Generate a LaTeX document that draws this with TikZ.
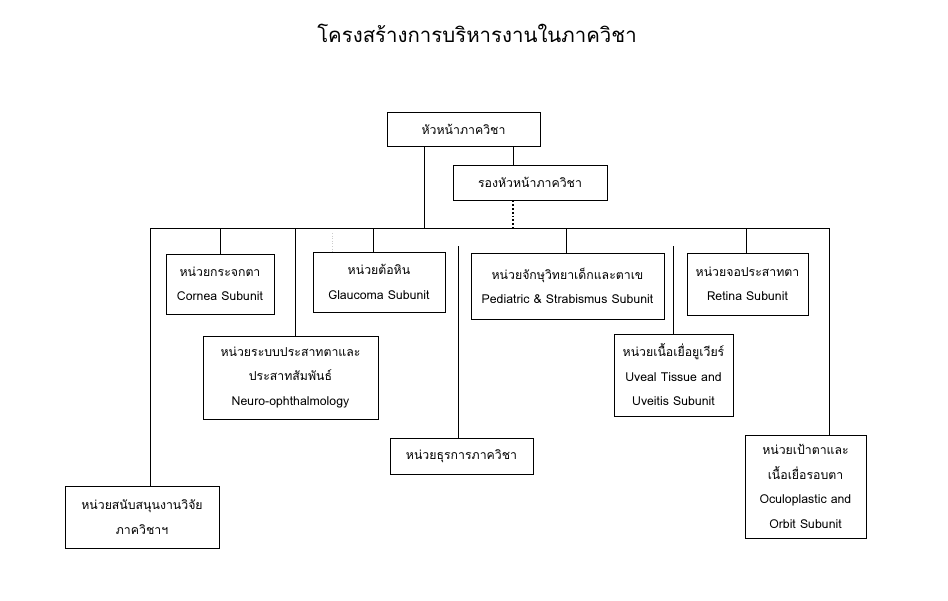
\documentclass[tikz,border=0pt]{standalone}
\usepackage{fontspec}
\setmainfont[Script=Thai]{Loma}
\begin{document}
\begin{tikzpicture}[x=1pt,y=-1pt,
  box/.style={draw, line width=0.8pt, align=center, inner sep=0pt, font=\fontsize{12.3}{24.5}\selectfont},
  conn/.style={line width=0.8pt}]
\useasboundingbox (0,0) rectangle (948,600);
\node[font=\fontsize{20.4}{24}\selectfont] (title) at (477,33) {โครงสร้างการบริหารงานในภาควิชา};
\node[box, minimum width=153pt, minimum height=34pt] (head) at (463.5,129) {หัวหน้าภาควิชา};
\node[box, minimum width=154pt, minimum height=35pt] (deputy) at (530,182.5) {รองหัวหน้าภาควิชา};
\node[box, minimum width=108pt, minimum height=60pt] (cornea) at (220,284) {หน่วยกระจกตา\\Cornea Subunit};
\node[box, minimum width=132pt, minimum height=60pt] (glaucoma) at (379,282) {หน่วยต้อหิน\\Glaucoma Subunit};
\node[box, minimum width=175pt, minimum height=83pt] (neuro) at (290.5,377.5) {หน่วยระบบประสาทตาและ\\ประสาทสัมพันธ์\\Neuro-ophthalmology};
\node[box, minimum width=193pt, minimum height=66pt] (pedia) at (567.5,286) {หน่วยจักษุวิทยาเด็กและตาเข\\Pediatric \& Strabismus Subunit};
\node[box, minimum width=121pt, minimum height=62pt] (retina) at (747.5,284) {หน่วยจอประสาทตา\\Retina Subunit};
\node[box, minimum width=119pt, minimum height=82pt] (uveal) at (673.5,375) {หน่วยเนื้อเยื่อยูเวียร์\\Uveal Tissue and\\Uveitis Subunit};
\node[box, minimum width=143pt, minimum height=36pt] (admin) at (461.5,456) {หน่วยธุรการภาควิชา};
\node[box, minimum width=154pt, minimum height=62pt] (research) at (142,517) {หน่วยสนับสนุนงานวิจัย\\ภาควิชาฯ};
\node[box, minimum width=121pt, minimum height=103pt] (oculo) at (805.5,486.5) {หน่วยเป้าตาและ\\เนื้อเยื่อรอบตา\\Oculoplastic and\\Orbit Subunit};
% bus coordinates
\coordinate (busL) at (150,228);
\coordinate (busR) at (829,228);
\coordinate (bHead) at (424,228);
\coordinate (bDep) at (513,228);
\coordinate (bCornea) at (220,228);
\coordinate (bGlau) at (373,228);
\coordinate (bNeuro) at (295,228);
\coordinate (bPedia) at (566,228);
\coordinate (bRetina) at (746,228);
\coordinate (tAdmin) at (458,246);
\coordinate (tUveal) at (673,246);
\coordinate (fA) at (332,233);
\coordinate (fB) at (332,252);
\draw[conn] (busL) -- (busR);
\draw[conn] (head.south -| bHead) -- (bHead);
\draw[conn] (head.south -| bDep) -- (deputy.north -| bDep);
\draw[line width=1.8pt, dotted] (deputy.south -| bDep) -- (bDep);
\draw[conn] (bCornea) -- (cornea.north -| bCornea);
\draw[conn] (bGlau) -- (glaucoma.north -| bGlau);
\draw[conn] (bNeuro) -- (neuro.north -| bNeuro);
\draw[conn] (bPedia) -- (pedia.north -| bPedia);
\draw[conn] (bRetina) -- (retina.north -| bRetina);
\draw[conn] (busL) -- (research.north -| busL);
\draw[conn] (busR) -- (oculo.north -| busR);
\draw[conn] (tAdmin) -- (admin.north -| tAdmin);
\draw[conn] (tUveal) -- (uveal.north -| tUveal);
\draw[line width=0.6pt, dotted, color=black!20] (fA) -- (fB);
\end{tikzpicture}
\end{document}
